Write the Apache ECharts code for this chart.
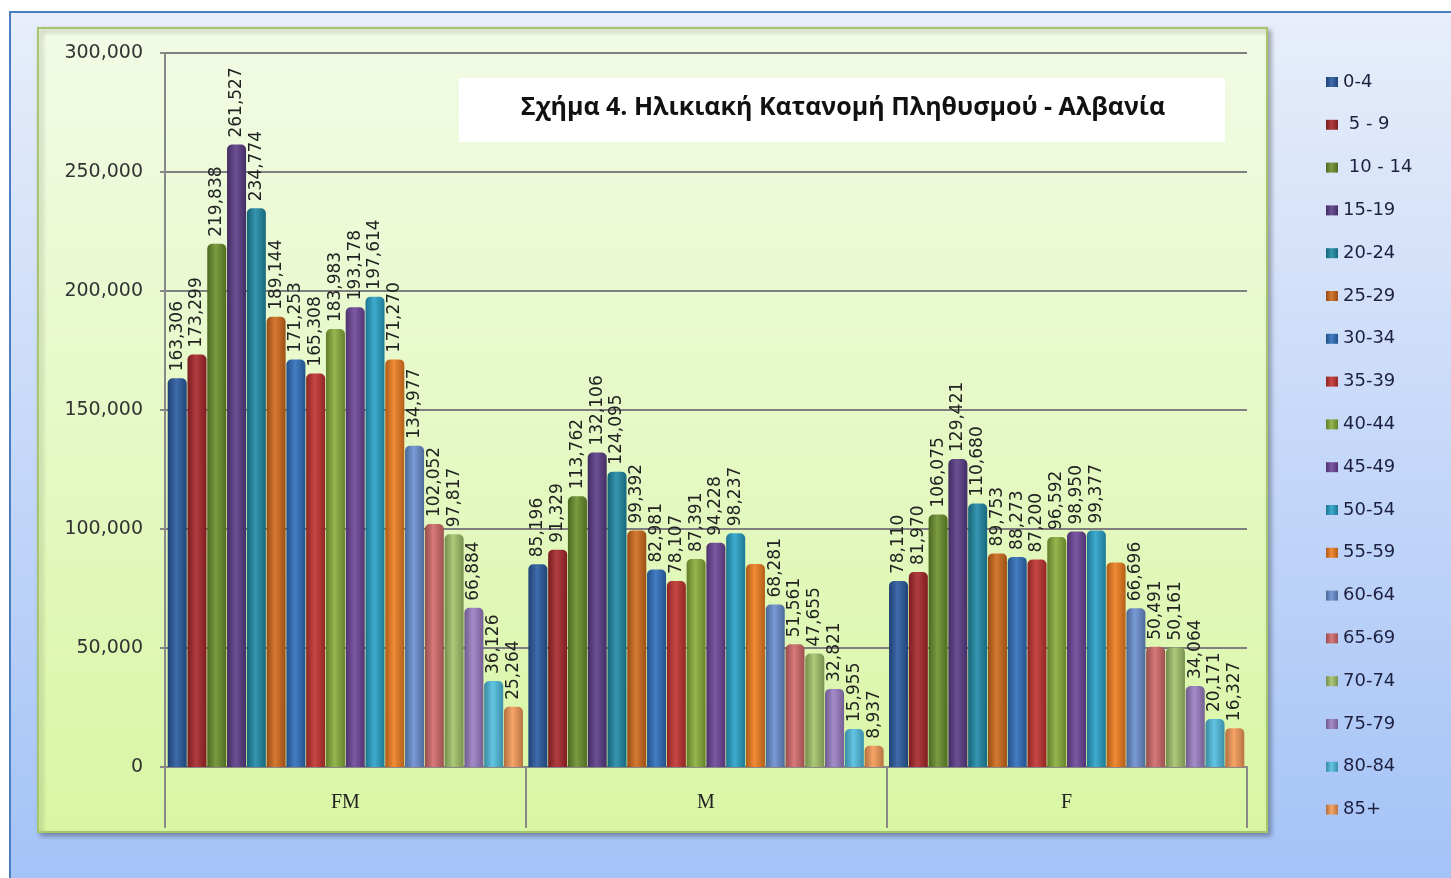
<!DOCTYPE html>
<html>
<head>
<meta charset="utf-8">
<script src="https://cdn.jsdelivr.net/npm/echarts@6/dist/echarts.min.js"></script>
<style>
html,body{margin:0;padding:0;background:#ffffff;}
#chart{width:1451px;height:878px;}
</style>
</head>
<body>
<div id="chart"></div>
<script>
const categories = ['FM', 'M', 'F'];
const ageGroups = ['0-4', ' 5 - 9', ' 10 - 14', '15-19', '20-24', '25-29', '30-34', '35-39', '40-44', '45-49', '50-54', '55-59', '60-64', '65-69', '70-74', '75-79', '80-84', '85+'];
const valuesFM = [163306, 173299, 219838, 261527, 234774, 189144, 171253, 165308, 183983, 193178, 197614, 171270, 134977, 102052, 97817, 66884, 36126, 25264];
const valuesM = [85196, 91329, 113762, 132106, 124095, 99392, 82981, 78107, 87391, 94228, 98237, 85300, 68281, 51561, 47655, 32821, 15955, 8937];
const valuesF = [78110, 81970, 106075, 129421, 110680, 89753, 88273, 87200, 96592, 98950, 99377, 85970, 66696, 50491, 50161, 34064, 20171, 16327];
// labels not shown in the reference: [category index, age index]
const hiddenLabels = [[1, 11], [2, 11]];
const yTicks = [0, 50000, 100000, 150000, 200000, 250000, 300000];
const titleText = 'Σχήμα 4. Ηλικιακή Κατανομή Πληθυσμού - Αλβανία';

const baseColors = ['#2a5aa0', '#a8272b', '#6a902c', '#5b3d87', '#1f8aa6', '#d06a1c', '#2f6fbc', '#c2332f', '#88ae3a', '#6d4599', '#28a2c8', '#ef7e20', '#6a8fd0', '#d26a6a', '#a3c36a', '#9a7fc4', '#50bee0', '#f59a56'];

function shade(hex, f) {
  const n = parseInt(hex.slice(1), 16);
  let r = (n >> 16) & 255, g = (n >> 8) & 255, b = n & 255;
  function adj(c) { return f >= 0 ? Math.round(c + (255 - c) * f) : Math.round(c * (1 + f)); }
  r = adj(r); g = adj(g); b = adj(b);
  return '#' + ((1 << 24) + (r << 16) + (g << 8) + b).toString(16).slice(1);
}
function grad(c) {
  return { type: 'linear', x: 0, y: 0, x2: 1, y2: 0, colorStops: [
    { offset: 0, color: shade(c, -0.28) },
    { offset: 0.45, color: shade(c, 0.1) },
    { offset: 1, color: shade(c, -0.25) }
  ]};
}
function fmt(v) { return String(v).replace(/\B(?=(\d{3})+(?!\d))/g, ','); }

const series = ageGroups.map(function (name, i) {
  const vals = [valuesFM[i], valuesM[i], valuesF[i]];
  return {
    name: name,
    type: 'bar',
    barGap: '4%',
    barCategoryGap: '1.5%',
    itemStyle: { color: grad(baseColors[i]), borderRadius: [5, 5, 0, 0] },
    label: {
      show: true, position: 'top', rotate: 90, align: 'left', verticalAlign: 'middle', distance: 7,
      fontFamily: 'DejaVu Sans', fontSize: 17, color: '#222',
      formatter: function (p) { return fmt(p.value); }
    },
    data: vals.map(function (v, ci) {
      const hide = hiddenLabels.some(function (h) { return h[0] === ci && h[1] === i; });
      return hide ? { value: v, label: { show: false } } : v;
    })
  };
});

const chart = echarts.init(document.getElementById('chart'), null, { renderer: 'canvas' });
chart.setOption({
  animation: false,
  backgroundColor: '#ffffff',
  graphic: [
    { type: 'rect', z: -10, shape: { x: 10, y: 12, width: 1460, height: 880 },
      style: { fill: { type: 'linear', x: 0, y: 0, x2: 0, y2: 1, colorStops: [{ offset: 0, color: '#e8eefa' }, { offset: 1, color: '#a3c2f7' }] }, stroke: '#4a7ec0', lineWidth: 2 } },
    { type: 'rect', z: -9, shape: { x: 38, y: 28, width: 1229, height: 804 },
      style: { fill: { type: 'linear', x: 0, y: 0, x2: 0, y2: 1, colorStops: [{ offset: 0, color: '#f2fbe6' }, { offset: 1, color: '#d9f6a4' }] }, stroke: '#a6c56c', lineWidth: 2,
        shadowBlur: 5, shadowOffsetX: 3, shadowOffsetY: 3, shadowColor: 'rgba(0,0,0,0.3)' } },
    { type: 'rect', z: 5, shape: { x: 459, y: 78, width: 766, height: 64 }, style: { fill: '#ffffff' } },
    { type: 'text', z: 6, x: 843, y: 108, style: { text: titleText, fontFamily: 'Open Sans', fontWeight: 'bold', fontSize: 25, fill: '#111', align: 'center', verticalAlign: 'middle' } }
  ],
  legend: {
    orient: 'vertical', left: 1326, top: 72, padding: 0,
    itemWidth: 12, itemHeight: 10, itemGap: 22.8,
    icon: 'rect',
    textStyle: { fontFamily: 'DejaVu Sans', fontSize: 18, color: '#1e2040', lineHeight: 20 },
    data: ageGroups
  },
  grid: { left: 165, top: 53, right: 204, bottom: 111, containLabel: false },
  xAxis: {
    type: 'category', data: categories,
    axisLine: { show: true, lineStyle: { color: '#888', width: 2 } },
    axisTick: { show: true, length: 61, interval: 0, lineStyle: { color: '#888', width: 2 } },
    axisLabel: { margin: 26, fontFamily: 'Liberation Serif', fontSize: 20, color: '#222' }
  },
  yAxis: {
    type: 'value', min: yTicks[0], max: yTicks[yTicks.length - 1], interval: yTicks[1] - yTicks[0],
    axisLine: { show: true, lineStyle: { color: '#888', width: 2 } },
    axisTick: { show: true, length: 5, lineStyle: { color: '#888', width: 2 } },
    splitLine: { show: true, lineStyle: { color: '#7f7f7f', width: 2 } },
    axisLabel: { margin: 22, fontFamily: 'DejaVu Sans', fontSize: 19, color: '#333', formatter: function (v) { return fmt(v); } }
  },
  series: series
});
</script>
</body>
</html>
